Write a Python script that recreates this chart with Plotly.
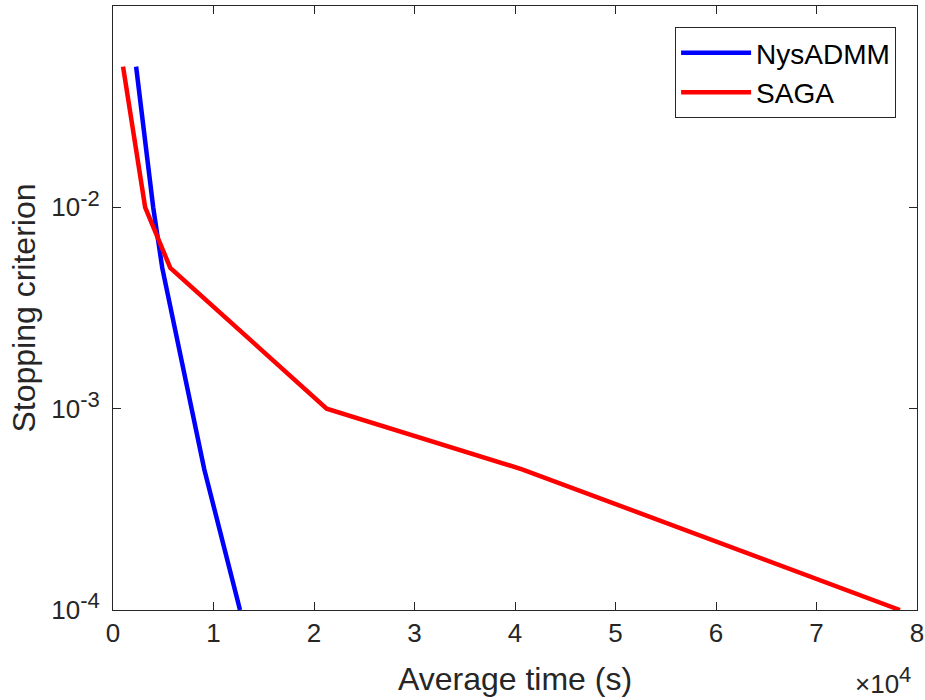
import plotly.graph_objects as go

nys_time = [2300, 4000, 4900, 7900, 9080, 12640]
nys_crit = [0.05, 0.01, 0.005, 0.001, 0.0005, 0.0001]
saga_time = [1000, 3200, 5700, 21260, 40700, 78300]
saga_crit = [0.05, 0.01, 0.005, 0.001, 0.0005, 0.0001]

x_tickvals = [0, 10000, 20000, 30000, 40000, 50000, 60000, 70000, 80000]
x_ticktext = ["0", "1", "2", "3", "4", "5", "6", "7", "8"]
y_tickvals = [1e-4, 1e-3, 1e-2]
y_exponents = ["-4", "-3", "-2"]
y_ticktext = ["10<sup><span style='font-size:22px'>%s</span></sup>" % e for e in y_exponents]

font_family = "Liberation Sans, Arial, sans-serif"
axis_color = "#262626"

fig = go.Figure()
fig.add_trace(go.Scatter(x=nys_time, y=nys_crit, mode="lines", name="NysADMM",
                         line=dict(color="#0000ff", width=4.5)))
fig.add_trace(go.Scatter(x=saga_time, y=saga_crit, mode="lines", name="SAGA",
                         line=dict(color="#ff0000", width=4.5)))

fig.update_layout(
    template="none",
    width=925, height=700,
    margin=dict(l=113, r=8, t=6, b=90, pad=0),
    paper_bgcolor="white", plot_bgcolor="white",
    font=dict(family=font_family, color=axis_color, size=26),
    showlegend=True,
    legend=dict(x=0.974, y=0.965, xanchor="right", yanchor="top",
                bgcolor="white", bordercolor=axis_color, borderwidth=1,
                font=dict(size=28, color="black"), itemwidth=70,
                tracegroupgap=0),
    xaxis=dict(range=[0, 80000], tickvals=x_tickvals, ticktext=x_ticktext,
               automargin=False,
               ticks="inside", ticklen=8, tickcolor=axis_color, tickwidth=1,
               showline=True, linecolor=axis_color, linewidth=1, mirror="ticks",
               showgrid=False, zeroline=False,
               tickfont=dict(size=26, color=axis_color),
               title=dict(text="Average time (s)", font=dict(size=32, color=axis_color), standoff=20)),
    yaxis=dict(type="log", range=[-4, -1.0], tickvals=y_tickvals, ticktext=y_ticktext,
               automargin=False, ticklabelstandoff=7,
               ticks="inside", ticklen=8, tickcolor=axis_color, tickwidth=1,
               showline=True, linecolor=axis_color, linewidth=1, mirror="ticks",
               showgrid=False, zeroline=False,
               tickfont=dict(size=26, color=axis_color),
               title=dict(text="Stopping criterion", font=dict(size=32, color=axis_color), standoff=6)),
)

fig.add_annotation(x=0.958, y=-0.117, xref="paper", yref="paper",
                   xanchor="center", yanchor="middle",
                   text="×10<sup><span style='font-size:22px'>4</span></sup>", showarrow=False,
                   font=dict(size=26, color=axis_color))

fig.write_html("out.html", config={"displayModeBar": False},
               post_script="document.body.style.margin='0px';document.body.style.overflow='hidden';")
